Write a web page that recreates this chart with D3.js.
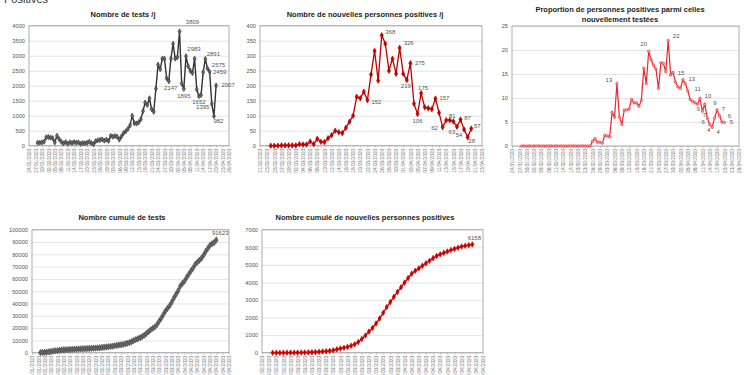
<!DOCTYPE html>
<html>
<head>
<meta charset="utf-8">
<script src="https://cdnjs.cloudflare.com/ajax/libs/d3/7.8.5/d3.min.js"></script>
<style>
  body { margin: 0; background: #fff; }
  text { font-family: "Liberation Sans", Arial, sans-serif; }
</style>
</head>
<body>
<div id="my_dataviz"></div>
<script>
// ---- data (one value per day from the start date) ----
var testsStart = "28/01/2020"
var testsPerDay = [100, 100, 110, 130, 280, 290, 270, 250, 110, 330,
  220, 130, 80, 120, 70, 110, 90, 120, 100, 110,
  70, 90, 80, 98, 130, 90, 50, 150, 180, 190,
  210, 170, 200, 160, 330, 300, 320, 300, 200, 310,
  420, 480, 560, 680, 1000, 750, 740, 780, 880, 1150,
  1440, 1360, 1580, 1220, 1130, 1900, 2700, 2550, 2900, 2900,
  2250, 2147, 2900, 3400, 2900, 2950, 3809, 2070, 1895, 2983,
  2650, 2500, 2420, 2900, 1880, 1652, 1690, 2450, 2891, 2575,
  2459, 1395, 982, 2007]

var positivesStart = "24/02/2020"
var positivesPerDay = [0, 0, 0, 1, 1, 1, 1, 1, 5, 4,
  4, 14, 5, 23, 13, 12, 25, 35, 50, 45,
  42, 60, 80, 100, 163, 158, 180, 152, 237, 316,
  217, 368, 340, 250, 290, 240, 326, 240, 219, 275,
  140, 106, 175, 128, 125, 122, 157, 110, 62, 85,
  85, 81, 63, 87, 54, 28, 57]

var ratioStart = "28/01/2020"
var ratioPerDay = [0, 0, 0, 0, 0, 0, 0, 0, 0, 0,
  0, 0, 0, 0, 0, 0, 0, 0, 0, 0,
  0, 0, 0, 0, 0, 0, 0, 0, 0, 1,
  1.5, 0.8, 0.8, 0.6, 2.2, 2.1, 1.9, 7, 6, 13,
  6, 4.5, 7.5, 7.5, 7.7, 9.7, 9, 9, 8.3, 9.5,
  16.2, 13, 19.7, 18, 16.8, 16, 12, 17.3, 17.2, 15.5,
  22, 14.8, 15.3, 13.3, 12.3, 12, 13.8, 13, 11.5, 9.7,
  9.3, 9, 8.7, 9.9, 7.3, 8.7, 5.8, 4.5, 3.9, 5.8,
  7.5, 6.3, 5, 4.9]

var testsCumulStart = "28/01/2020"
var testsCumul = [100, 200, 310, 440, 720, 1010, 1280, 1530, 1640, 1970,
  2190, 2320, 2400, 2520, 2590, 2700, 2790, 2910, 3010, 3120,
  3190, 3280, 3360, 3458, 3588, 3678, 3728, 3878, 4058, 4248,
  4458, 4628, 4828, 4988, 5318, 5618, 5938, 6238, 6438, 6748,
  7168, 7648, 8208, 8888, 9888, 10638, 11378, 12158, 13038, 14188,
  15628, 16988, 18568, 19788, 20918, 22818, 25518, 28068, 30968, 33868,
  36118, 38265, 41165, 44565, 47465, 50415, 54224, 56294, 58189, 61172,
  63822, 66322, 68742, 71642, 73522, 75174, 76864, 79314, 82205, 84780,
  87239, 88634, 89616, 91623]

var positivesCumulStart = "24/02/2020"
var positivesCumul = [0, 0, 0, 1, 2, 3, 4, 5, 9, 13,
  17, 30, 35, 55, 70, 82, 105, 140, 190, 235,
  280, 330, 400, 480, 610, 780, 980, 1200, 1410, 1660,
  1950, 2270, 2600, 2880, 3180, 3460, 3720, 3990, 4250, 4500,
  4660, 4800, 4950, 5090, 5230, 5380, 5510, 5600, 5680, 5760,
  5840, 5910, 5975, 6040, 6085, 6120, 6158]

// date axes: first tick, last tick, days between ticks
var longAxis = ["24/01/2020", "26/04/2020", 3]
var shortAxis = ["21/02/2020", "23/04/2020", 2]

// data labels: index of the point, and the text shown
var testsLabelAt = [66, 61, 68, 69, 75, 81, 78, 79, 80, 82, 83]
var testsLabelText = ["3809", "2147", "1895", "2983", "1652", "1395", "2891", "2575", "2459", "982", "2007"]
var positivesLabelAt = [31, 36, 39, 38, 42, 46, 27, 41, 48, 51, 52, 53, 54, 55, 56]
var positivesLabelText = ["368", "326", "275", "219", "175", "157", "152", "106", "62", "81", "63", "87", "54", "28", "57"]
var ratioLabelAt = [39, 52, 60, 62, 66, 68, 73, 71, 74, 76, 77, 78, 80, 81, 82, 83]
var ratioLabelText = ["13", "20", "22", "15", "13", "11", "10", "9", "7", "6", "4", "4", "9", "7", "6", "5"]
var testsCumulLabelAt = [83]
var testsCumulLabelText = ["91623"]
var positivesCumulLabelAt = [56]
var positivesCumulLabelText = ["6158"]

// ---- drawing ----
var parse = d3.utcParse("%d/%m/%Y")
var fmt = d3.utcFormat("%d/%m/%Y")

var svg = d3.select("#my_dataviz")
  .append("svg")
    .attr("width", 750)
    .attr("height", 375)

// cut-off heading at the very top
svg.append("text")
  .attr("x", 4).attr("y", 3)
  .style("font-size", "11px")
  .style("fill", "#333")
  .text("Positives")

function dates(start, n) {
  var s = parse(start)
  return d3.range(n).map(function(i) { return d3.utcDay.offset(s, i) })
}

function panel(o) {
  var g = svg.append("g")
  var x = d3.scaleUtc()
    .domain([parse(o.axis[0]), parse(o.axis[1])])
    .range([o.left, o.right])
  var y = d3.scaleLinear()
    .domain([0, o.yMax])
    .range([o.bottom, o.top])
  var yTicks = d3.range(0, o.yMax + 1, o.yStep)

  // gridlines
  g.append("g")
    .attr("transform", "translate(" + o.left + ",0)")
    .call(d3.axisLeft(y).tickValues(yTicks).tickSize(-(o.right - o.left)).tickFormat(""))
    .call(function(a) { a.select(".domain").remove() })
    .selectAll("line").attr("stroke", "#d9d9d9").attr("stroke-width", 0.7)

  // y tick labels
  g.append("g")
    .attr("transform", "translate(" + (o.left - 4) + ",0)")
    .call(d3.axisLeft(y).tickValues(yTicks).tickFormat(d3.format("d")).tickSize(0).tickPadding(0))
    .call(function(a) { a.select(".domain").remove() })
    .selectAll("text")
      .style("font-size", "5.7px")
      .style("font-family", "Liberation Sans, Arial, sans-serif")
      .attr("fill", "#555")

  // x date axis, labels turned
  var ticks = d3.utcDay.range(parse(o.axis[0]), d3.utcDay.offset(parse(o.axis[1]), 1), o.axis[2])
  var xa = g.append("g")
    .attr("transform", "translate(0," + o.bottom + ")")
    .call(d3.axisBottom(x).tickValues(ticks).tickFormat(fmt).tickSize(2))
  xa.select(".domain").remove()
  xa.selectAll("line").attr("stroke", "#999").attr("stroke-width", 0.5)
  xa.selectAll("text")
    .attr("transform", "rotate(-90)")
    .attr("text-anchor", "end")
    .attr("x", -3)
    .attr("y", 0)
    .attr("dy", "0.35em")
    .style("font-size", "4.8px")
    .style("font-family", "Liberation Sans, Arial, sans-serif")
    .attr("fill", "#777")

  // plot frame
  g.append("rect")
    .attr("x", o.left).attr("y", o.top)
    .attr("width", o.right - o.left).attr("height", o.bottom - o.top)
    .attr("fill", "none")
    .attr("stroke", "#999")
    .attr("stroke-width", 0.8)

  // the series
  var ds = dates(o.start, o.values.length)
  var pts = o.values.map(function(v, i) { return [x(ds[i]), y(v)] })

  g.append("path")
    .attr("d", d3.line()(pts))
    .attr("fill", "none")
    .attr("stroke", o.color)
    .attr("stroke-width", o.lineWidth)

  g.selectAll(".mk")
    .data(pts)
    .enter()
    .append("path")
      .attr("transform", function(p) { return "translate(" + p[0] + "," + p[1] + ")" })
      .attr("d", d3.symbol().type(o.symbol).size(o.symbolSize))
      .attr("fill", o.markFill)
      .attr("stroke", o.color)
      .attr("stroke-width", 0.6)

  // data labels
  o.labelAt.forEach(function(idx, k) {
    var p = pts[idx]
    g.append("text")
      .attr("x", p[0] + o.labelOff[k][0])
      .attr("y", p[1] + o.labelOff[k][1])
      .attr("text-anchor", "middle")
      .attr("dominant-baseline", "central")
      .style("font-size", "6px")
      .attr("fill", "#555")
      .text(o.labelText[k])
  })

  // title
  o.title.forEach(function(t, k) {
    g.append("text")
      .attr("x", o.titleX)
      .attr("y", o.titleY + k * 9.5)
      .attr("text-anchor", "middle")
      .attr("dominant-baseline", "central")
      .style("font-size", "7.5px")
      .style("font-weight", "bold")
      .attr("fill", "#222")
      .text(t)
  })
}

panel({
  left: 29, right: 229, top: 25.7, bottom: 145.7,
  yMax: 4000, yStep: 500, axis: longAxis,
  start: testsStart, values: testsPerDay,
  color: "#333", lineWidth: 1.4, symbol: d3.symbolDiamond, symbolSize: 8, markFill: "#666",
  labelAt: testsLabelAt, labelText: testsLabelText,
  labelOff: [[13, -9], [2, 7], [0, 7], [8, -7], [0, 6], [-9, 3.5], [8, -5], [11, -3.5], [10, 0], [4.5, 4.5], [12, 0]],
  title: ["Nombre de tests /j"], titleX: 123, titleY: 14
})

panel({
  left: 260, right: 482, top: 25.7, bottom: 145.7,
  yMax: 400, yStep: 50, axis: shortAxis,
  start: positivesStart, values: positivesPerDay,
  color: "#c00000", lineWidth: 1.3, symbol: d3.symbolDiamond, symbolSize: 9, markFill: "#c00000",
  labelAt: positivesLabelAt, labelText: positivesLabelText,
  labelOff: [[8.5, -3], [9, -4.5], [9.5, 0], [-1, 6], [2, -5], [9, -1], [9, 2], [0, 7], [-8, 1], [-1, -5.5], [-5, 5], [7, -2], [-5, 5], [4, 3.5], [6, -3]],
  title: ["Nombre de nouvelles personnes positives /j"], titleX: 365, titleY: 14
})

panel({
  left: 512, right: 739, top: 26, bottom: 146,
  yMax: 25, yStep: 5, axis: longAxis,
  start: ratioStart, values: ratioPerDay,
  color: "#e8262e", lineWidth: 1.2, symbol: d3.symbolCircle, symbolSize: 5, markFill: "#f6a5a5",
  labelAt: ratioLabelAt, labelText: ratioLabelText,
  labelOff: [[-8, -3.5], [-5, -7], [8, -4], [8, 0], [9, -1], [10, -1.5], [8, -2], [3, 6], [2, 4], [-4, 3.5], [-1, 6], [6, 5], [-2, -7], [4, -7], [7.5, -6], [7, 0]],
  title: ["Proportion de personnes positives parmi celles", "nouvellement testées"], titleX: 620, titleY: 9.5
})

panel({
  left: 32, right: 229, top: 229.7, bottom: 352.7,
  yMax: 100000, yStep: 10000, axis: longAxis,
  start: testsCumulStart, values: testsCumul,
  color: "#444", lineWidth: 1.4, symbol: d3.symbolDiamond, symbolSize: 12, markFill: "#666",
  labelAt: testsCumulLabelAt, labelText: testsCumulLabelText,
  labelOff: [[4, -7]],
  title: ["Nombre cumulé de tests"], titleX: 122, titleY: 217.7
})

panel({
  left: 262, right: 483, top: 229.7, bottom: 352.7,
  yMax: 7000, yStep: 1000, axis: shortAxis,
  start: positivesCumulStart, values: positivesCumul,
  color: "#cc0000", lineWidth: 1.3, symbol: d3.symbolDiamond, symbolSize: 9, markFill: "#cc0000",
  labelAt: positivesCumulLabelAt, labelText: positivesCumulLabelText,
  labelOff: [[2, -6]],
  title: ["Nombre cumulé de nouvelles personnes positives"], titleX: 365, titleY: 217.7
})
</script>
</body>
</html>
